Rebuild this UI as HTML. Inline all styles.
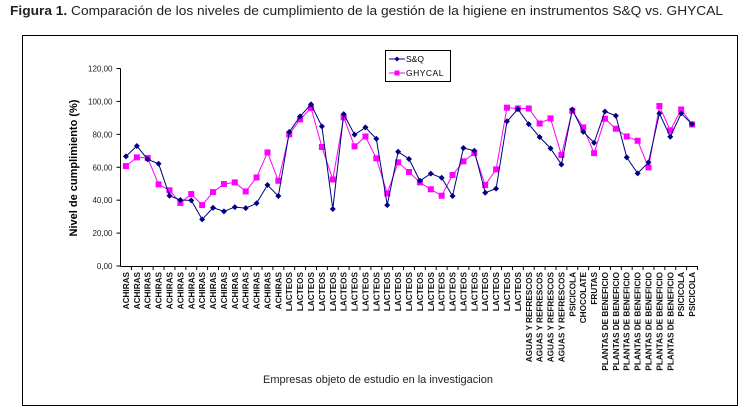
<!DOCTYPE html>
<html><head><meta charset="utf-8"><style>
body{margin:0;background:#fff;width:745px;height:410px;overflow:hidden;font-family:"Liberation Sans",Arial,sans-serif}
</style></head><body>
<svg width="745" height="410" xmlns="http://www.w3.org/2000/svg">
<text x="10" y="15" font-size="12.5" fill="#222" textLength="713" lengthAdjust="spacingAndGlyphs"><tspan font-weight="bold">Figura 1.</tspan> Comparación de los niveles de cumplimiento de la gestión de la higiene en instrumentos S&amp;Q vs. GHYCAL</text>
<rect x="22.5" y="35.5" width="715" height="370" fill="none" stroke="#000" stroke-width="1"/>
<g id="plot"></g>
<text transform="translate(77,168) rotate(-90)" text-anchor="middle" font-size="11" font-weight="bold" fill="#000">Nivel de cumplimiento (%)</text>
<text x="378" y="383" text-anchor="middle" font-size="11" fill="#222">Empresas objeto de estudio  en la investigacion</text>
<g>
<rect x="385.5" y="50.5" width="65" height="31" fill="#fff" stroke="#000"/>
<g><line x1="389" y1="59" x2="405" y2="59" stroke="#000080"/><path d="M397 56.5L399.5 59L397 61.5L394.5 59Z" fill="#000080"/><text x="406" y="62" font-size="8.5" fill="#000">S&amp;Q</text></g>
<g><line x1="389" y1="73" x2="405" y2="73" stroke="#ff00ff"/><rect x="394.5" y="70.5" width="5" height="5" fill="#ff00ff"/><text x="406" y="76" font-size="8.5" fill="#000" letter-spacing="0.5">GHYCAL</text></g>
</g>
</svg>
<script>
const categories = [].concat(
  Array(15).fill('ACHIRAS'), Array(22).fill('LACTEOS'), Array(4).fill('AGUAS Y REFRESCOS'),
  ['PSICICOLA','CHOCOLATE','FRUTAS'], Array(7).fill('PLANTAS DE BENEFICIO'), ['PSICICOLA','PSICICOLA']);
const sqValues = [66.6,72.9,64.8,62.1,42.7,40.1,39.9,28.3,35.4,33.2,35.8,35.2,38.1,49.2,42.5,81.4,90.9,98.2,84.8,34.6,92.3,79.8,84.2,77.3,37.0,69.4,65.0,51.8,56.1,53.6,42.5,71.7,70.0,44.5,47.0,87.9,95.3,86.2,78.3,71.5,61.7,95.1,81.6,74.9,93.9,91.3,66.0,56.3,63.0,92.7,78.5,92.7,86.2];
const ghycalValues = [60.7,66.0,65.6,49.6,46.0,38.3,43.7,37.0,44.9,49.8,50.8,45.3,53.8,69.0,51.8,80.0,89.1,96.0,72.3,52.6,90.3,72.7,78.7,65.4,44.1,63.0,57.1,50.8,46.6,42.7,55.3,63.6,68.6,49.2,58.7,96.2,95.7,95.7,86.6,89.7,67.4,94.3,84.2,68.6,89.5,83.4,78.7,76.1,59.9,97.2,82.4,95.1,86.0];
const yTicks = [0,20,40,60,80,100,120];
const yTickLabels = ['0,00','20,00','40,00','60,00','80,00','100,00','120,00'];

const NS='http://www.w3.org/2000/svg';
const g=document.getElementById('plot');
const X0=120.5,X1=697.5,Y0=266,Y1=68.5,YMAX=120;
const bw=(X1-X0)/categories.length;
const xs=i=>X0+bw*(i+0.5);
const ys=v=>Y0-(v/YMAX)*(Y0-Y1);
function mk(t,a){const e=document.createElementNS(NS,t);for(const k in a)e.setAttribute(k,a[k]);g.appendChild(e);return e;}
let e;
e=mk('line',{x1:X0,y1:Y1,x2:X0,y2:Y0,stroke:'#000'});


e=mk('line',{x1:X0,y1:Y0+0.5,x2:X1,y2:Y0+0.5,stroke:'#000'});


yTicks.forEach((t,i)=>{
  mk('line',{x1:X0-4,y1:ys(t),x2:X0,y2:ys(t),stroke:'#000'});
  e=mk('text',{x:X0-8,y:ys(t)+3,'text-anchor':'end','font-size':'8',fill:'#222'});
  e.textContent=yTickLabels[i];
  
  
});
categories.forEach((c,i)=>{
  mk('line',{x1:X0+bw*(i+1),y1:Y0,x2:X0+bw*(i+1),y2:Y0+4,stroke:'#000'});
  e=mk('text',{transform:`translate(${xs(i)+3},${Y0+6}) rotate(-90)`,'text-anchor':'end','font-size':'8.2','font-weight':'bold',fill:'#111'});
  e.textContent=c;
  
  
});
function series(vals,color,name,marker){
  e=mk('polyline',{points:vals.map((v,i)=>xs(i)+','+ys(v)).join(' '),fill:'none',stroke:color,'stroke-width':'1'});
  
  
  vals.forEach((v,i)=>{
    const x=xs(i),y=ys(v);
    if(marker==='sq') e=mk('rect',{x:x-3,y:y-3,width:6,height:6,fill:color});
    else e=mk('path',{d:`M${x} ${y-3}L${x+3} ${y}L${x} ${y+3}L${x-3} ${y}Z`,fill:color});
    
    
  });
}
series(ghycalValues,'#ff00ff','ghycal','sq');
series(sqValues,'#000080','sq','diamond');
</script>
</body></html>
